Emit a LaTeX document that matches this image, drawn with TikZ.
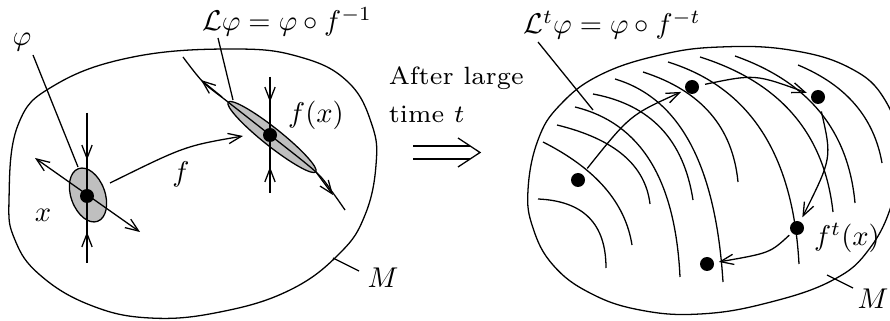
\documentclass[tikz,border=0pt]{standalone}
\usetikzlibrary{arrows.meta,calc}
\tikzset{
  dot/.style={circle, fill=black, inner sep=0pt, minimum size=4.9pt},
  txt/.style={font=\scriptsize, scale=1.25, anchor=base west, inner sep=0pt},
  lbl/.style={anchor=base, inner sep=0pt},
}
\begin{document}
\begin{tikzpicture}[x=0.35pt, y=-0.35pt, line width=0.45pt,
    >={Straight Barb[length=4.6pt, width=3.6pt]}]
  \clip (0,0) rectangle (890,321);

  % Mannigfaltigkeit links
  \draw plot[smooth cycle, tension=0.7] coordinates {(9,200) (18,125) (55,85) (133,57) (233,49)
    (300,57) (348,82) (372,125) (376,165) (365,215) (340,253) (290,290) (220,312) (150,318)
    (90,305) (40,275) (15,240)};
  \draw (333,258) -- (359,271);
  \node[lbl] (M1) at (383,288) {$M$};

  % Umgebung von x
  \draw[fill=gray!50, rotate around={20:(88,195)}] (88,195) ellipse [x radius=17, y radius=28];
  \node[dot] (x) at (87,196) {};
  \draw (87,113) -- (87,263);
  \draw[->] (87,113) -- (87,160);
  \draw[->] (87,263) -- (87,232);
  \draw[<->] (35,158) -- (140,232);
  \draw (33,55) -- (78,167);
  \node[lbl] (phi) at (22,46) {$\varphi$};
  \node[lbl] (xl) at (43,222) {$x$};

  % Abbildung f
  \draw[->] (110,183) .. controls (185,146) .. (243,136);
  \node[lbl] (fl) at (181,182) {$f$};

  % Umgebung von f(x)
  \draw[fill=gray!50, rotate around={-38.5:(272,137)}] (272,137) ellipse [x radius=56, y radius=9];
  \draw plot[smooth] coordinates {(183,57) (203,82) (228,102) (270,135) (316,172) (333,193) (345,210)};
  \draw[->] (222,97) -- (201,80);
  \draw[->] (316,172) -- (333,195);
  \node[dot] (fx) at (270,135) {};
  \draw (270,77) -- (270,193);
  \draw[->] (270,77) -- (270,102);
  \draw[->] (270,193) -- (270,167);
  \draw (218,38) -- (233,100);
  \node[lbl] (L) at (287,31) {$\mathcal{L}\varphi = \varphi\circ f^{-1}$};
  \node[lbl] (fxl) at (316,123) {$f(x)$};

  % Pfeil in der Mitte
  \node[txt] (after) at (388,85) {After large};
  \node[txt] (time) at (388,123) {time $t$};
  \draw (413,146) -- (470,146);
  \draw (413,159) -- (470,159);
  \draw (458,138) -- (480,152.5) -- (458,167);

  % Mannigfaltigkeit rechts
  \draw plot[smooth cycle, tension=0.7] coordinates {(528,190) (538,140) (560,105) (600,75)
    (660,55) (720,47) (790,50) (850,68) (885,100) (900,150) (893,200) (870,248) (833,280)
    (767,303) (700,314) (640,310) (590,293) (553,265) (533,228)};
  \draw (827,275) -- (853,288);
  \node[lbl] (M2) at (873,309) {$M$};

  % Niveaulinien (Anfang / Ecke / Ende)
  \foreach \s/\c/\e in {{538,199}/{606,202}/{606,268}, {543,142}/{622,182}/{632,245},
      {557,125}/{643,146}/{650,204}, {575,107}/{673,131}/{680,277}, {593,94}/{679,110}/{693,200},
      {615,79}/{712,108}/{723,282}, {643,72}/{730,100}/{738,182}, {668,62}/{790,100}/{799,264},
      {700,57}/{820,95}/{833,212}, {735,56}/{845,95}/{855,203}, {798,65}/{870,95}/{882,163}}
    \draw (\s) .. controls ($(\s)!0.67!(\c)$) and ($(\e)!0.67!(\c)$) .. (\e);
  \draw (538,42) -- (593,110);
  \node[lbl] (Lt) at (612,34) {$\mathcal{L}^t\varphi = \varphi\circ f^{-t}$};

  % Bahn von x
  \node[dot] (d1) at (578,180) {};
  \node[dot] (d2) at (692,87) {};
  \node[dot] (d3) at (818,97) {};
  \node[dot] (d4) at (797,228) {};
  \node[dot] (d5) at (707,264) {};
  \draw[->, shorten <=2.5pt, shorten >=1.5pt] (d1) .. controls (630,115) .. (d2);
  \draw[->, shorten <=2pt, shorten >=1.5pt] (d2) .. controls (755,74) .. (d3);
  \draw[->, shorten <=2.5pt, shorten >=1.5pt] (d3) .. controls (832,158) .. (d4);
  \draw[->, shorten <=1pt, shorten >=1.5pt] (d4) .. controls (770,253) .. (d5);
  \node[lbl] (ftl) at (847,246) {$f^t(x)$};
\end{tikzpicture}
\end{document}
